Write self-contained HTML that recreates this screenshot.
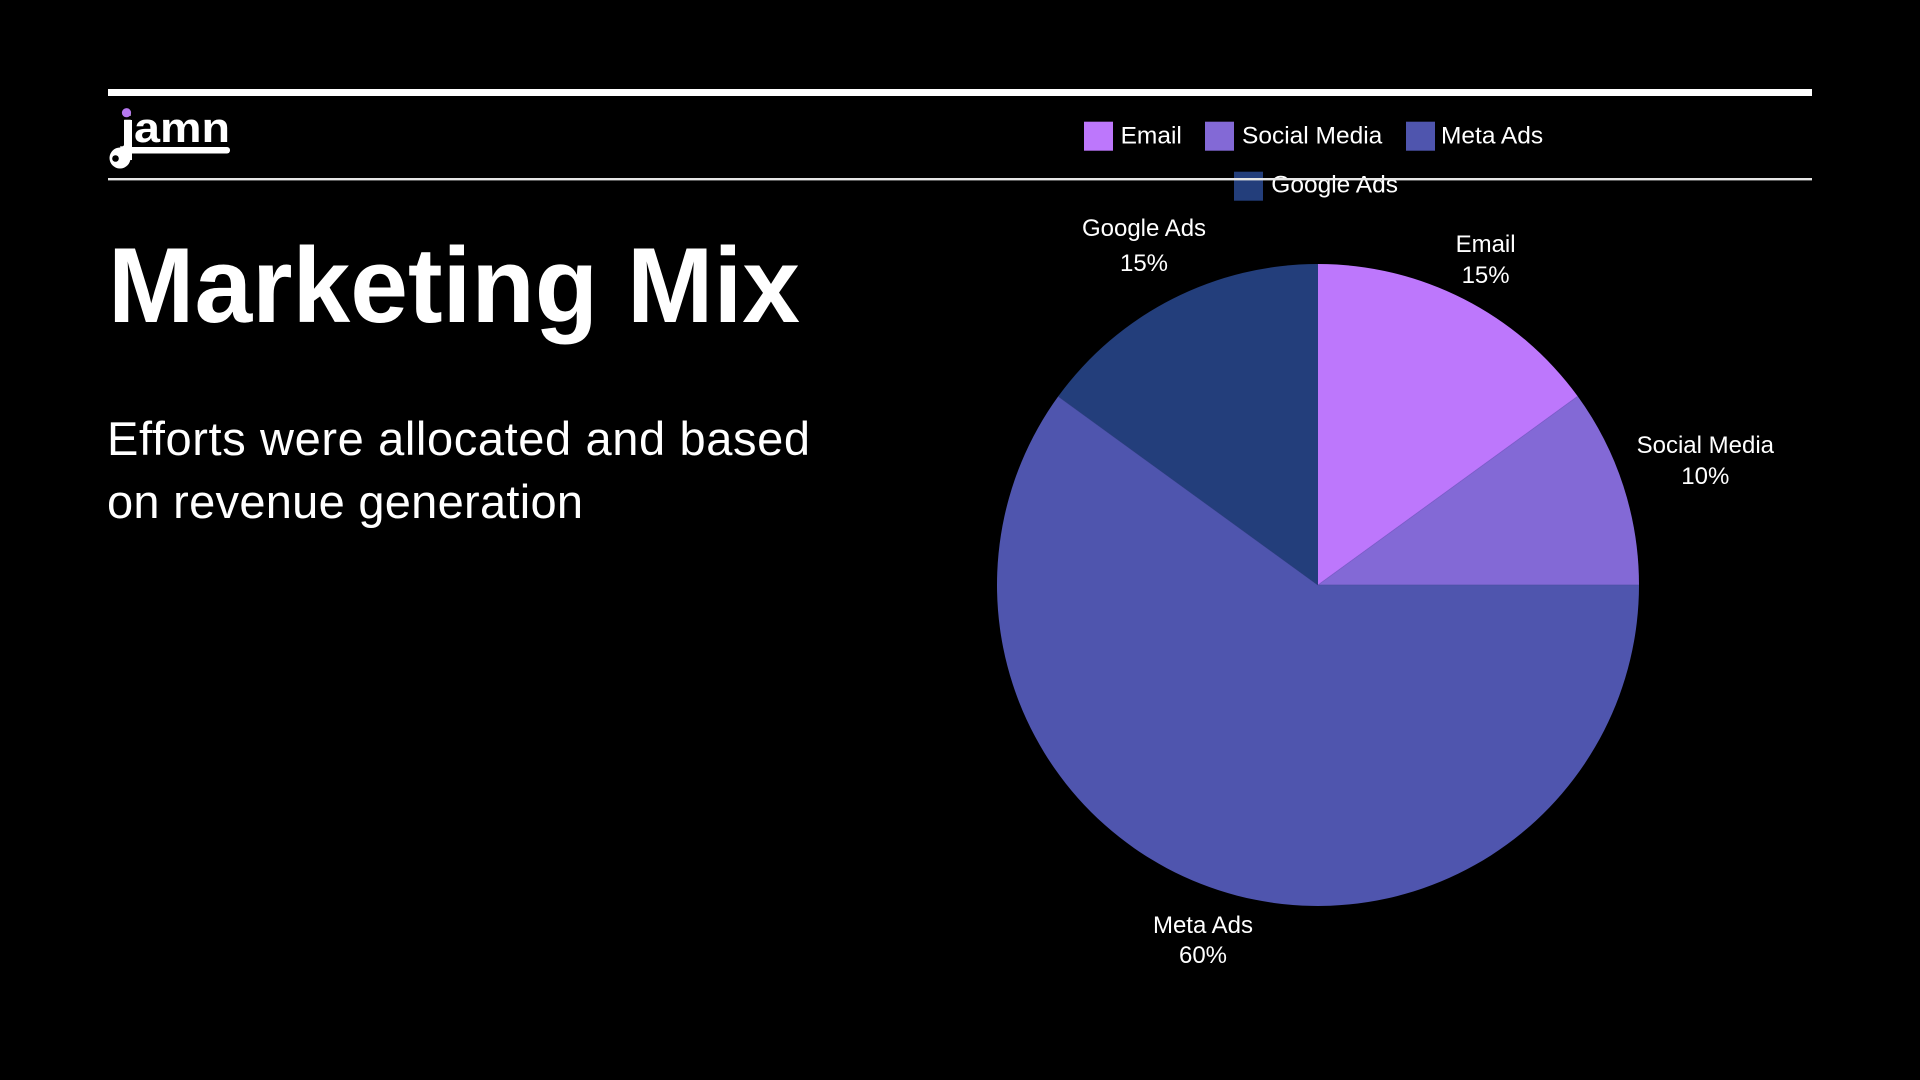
<!DOCTYPE html>
<html>
<head>
<meta charset="utf-8">
<style>
html,body{margin:0;padding:0;background:#000;}
body{width:1920px;height:1080px;overflow:hidden;}
svg{display:block;}
text{font-family:"Liberation Sans", Arial, sans-serif;fill:#fff;}
</style>
</head>
<body>
<svg width="1920" height="1080" viewBox="0 0 1920 1080" xmlns="http://www.w3.org/2000/svg">
  <rect x="0" y="0" width="1920" height="1080" fill="#000"/>

  <!-- top thick line -->
  <rect x="108" y="89" width="1704" height="7" fill="#ffffff"/>

  <!-- logo -->
  <g>
    <text x="121" y="142" font-size="42" font-weight="bold" textLength="109" lengthAdjust="spacingAndGlyphs">jamn</text>
    <rect x="124" y="120" width="8" height="40" fill="#fff"/>
    <circle cx="120" cy="158" r="10.5" fill="#fff"/>
    <circle cx="115.5" cy="158.5" r="3.3" fill="#000"/>
    <rect x="124" y="147" width="106" height="6.5" rx="3" fill="#fff"/>
    <circle cx="126.5" cy="112.7" r="4.6" fill="#b678f0"/>
  </g>

  <!-- title -->
  <text x="108" y="322" font-size="107" font-weight="bold" textLength="692" lengthAdjust="spacingAndGlyphs">Marketing Mix</text>

  <!-- subtitle -->
  <text x="107" y="455" font-size="47" textLength="703" lengthAdjust="spacing">Efforts were allocated and based</text>
  <text x="107" y="518" font-size="47" textLength="476" lengthAdjust="spacing">on revenue generation</text>

  <!-- pie -->
  <g>
    <path d="M1318,585 L1318,264 A321,321 0 0,1 1577.7,396.3 Z" fill="#bd77fc"/>
    <path d="M1318,585 L1577.7,396.3 A321,321 0 0,1 1639,585 Z" fill="#8369d6"/>
    <path d="M1318,585 L1639,585 A321,321 0 1,1 1058.3,396.3 Z" fill="#4f55ae"/>
    <path d="M1318,585 L1058.3,396.3 A321,321 0 0,1 1318,264 Z" fill="#233e7b"/>
    <line x1="1318" y1="585" x2="1577.7" y2="396.3" stroke="#7a5ccc" stroke-width="1" opacity="0.6"/>
    <line x1="1318" y1="585" x2="1639" y2="585" stroke="#4a4fa0" stroke-width="1" opacity="0.6"/>
    <line x1="1318" y1="585" x2="1058.3" y2="396.3" stroke="#2a3f80" stroke-width="1" opacity="0.6"/>
  </g>

  <!-- pie labels -->
  <g font-size="24" text-anchor="middle">
    <text x="1144" y="236" text-anchor="middle">Google Ads</text>
    <text x="1144" y="271" text-anchor="middle">15%</text>
    <text x="1485.6" y="252" text-anchor="middle">Email</text>
    <text x="1485.6" y="283" text-anchor="middle">15%</text>
    <text x="1705.3" y="453" text-anchor="middle">Social Media</text>
    <text x="1705.3" y="484" text-anchor="middle">10%</text>
    <text x="1203" y="933" text-anchor="middle">Meta Ads</text>
    <text x="1203" y="963" text-anchor="middle">60%</text>
  </g>

  <!-- legend -->
  <g font-size="24.5">
    <rect x="1084" y="121.7" width="29" height="29" fill="#bd77fc"/>
    <text x="1120.6" y="143.3">Email</text>
    <rect x="1205" y="121.7" width="29" height="29" fill="#8369d6"/>
    <text x="1242" y="143.3">Social Media</text>
    <rect x="1406" y="121.7" width="29" height="29" fill="#4f55ae"/>
    <text x="1441" y="143.3">Meta Ads</text>
    <rect x="1234" y="171.7" width="29" height="29" fill="#233e7b"/>
    <text x="1271.3" y="192.3">Google Ads</text>
  </g>

  <!-- thin line -->
  <rect x="108" y="178" width="1704" height="2.4" fill="#e6e6e6"/>
</svg>
</body>
</html>
